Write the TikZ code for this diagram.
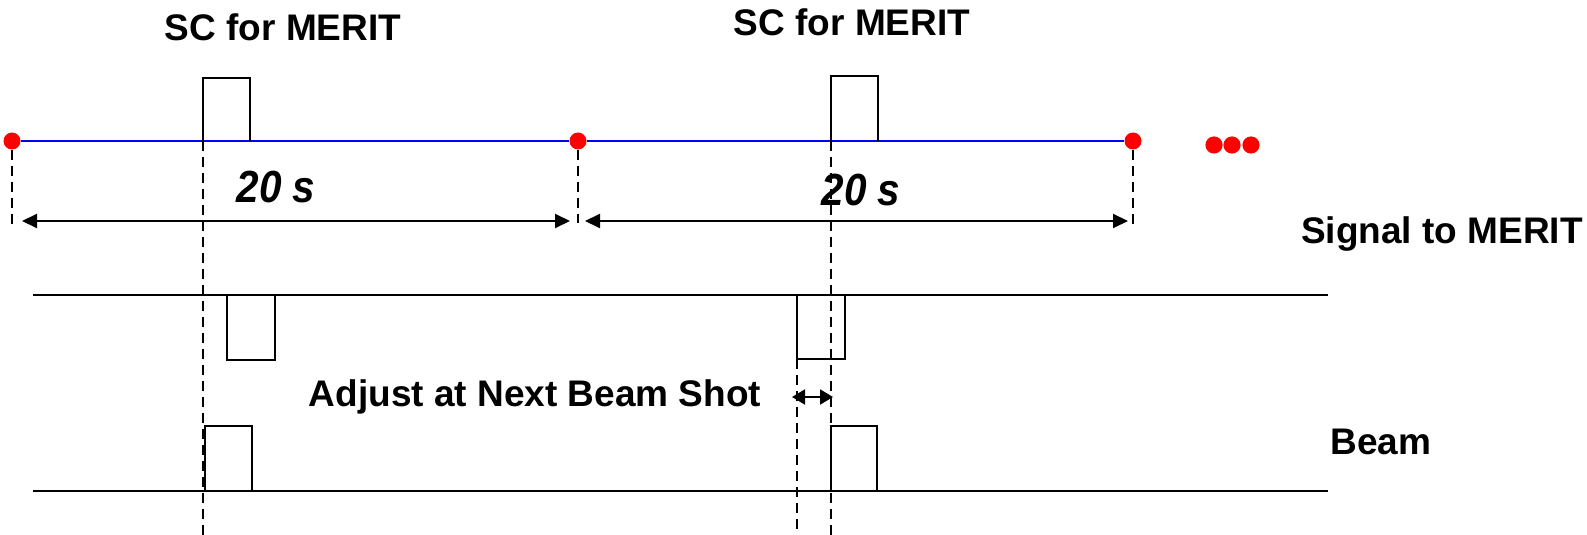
\documentclass[tikz,border=0pt]{standalone}
\usepackage{fontspec}
\setmainfont{Liberation Sans}
\usetikzlibrary{arrows.meta,positioning}
\tikzset{
  tickdot/.style={
    circle,
    fill=red,
    inner sep=0pt,
    minimum size=8.5pt
  },
  moredot/.style={
    circle,
    fill=red,
    inner sep=0pt,
    minimum size=8.6pt
  },
  cyclebar/.style={
    blue,
    line width=1pt
  },
  pulse/.style={
    black,
    line width=0.8pt
  },
  track/.style={
    black,
    line width=1pt
  },
  guide/.style={
    dash pattern=on 5pt off 3pt,
    line width=0.8pt
  },
  span/.style={
    {Triangle[length=7.5pt,width=7pt]}-{Triangle[length=7.5pt,width=7pt]},
    line width=1pt
  },
  spansmall/.style={
    {Triangle[length=6.5pt,width=7.5pt]}-{Triangle[length=6.5pt,width=7.5pt]},
    line width=1pt
  },
  caption/.style={
    inner sep=0pt,
    font=\bfseries\fontsize{18.5}{20}\selectfont
  },
  period/.style={
    inner sep=0pt,
    font=\bfseries\itshape\fontsize{22.5}{24}\selectfont
  }
}

\begin{document}
\begin{tikzpicture}[x=0.5pt,y=-0.5pt]
\useasboundingbox (0,0) rectangle (1587,535);
% cycle markers
\node[tickdot] (t0) at (12,141) {};
\node[tickdot] (t1) at (578,141) {};
\node[tickdot] (t2) at (1133,141) {};
\foreach \i/\x in {1/1214,2/1232,3/1251}
  \node[moredot] (e\i) at (\x,145) {};
\draw[cyclebar] (t0) -- (t1) -- (t2);
% levels
\coordinate (lvl) at (0,221);
\coordinate (btm) at (0,535);
\coordinate (s0) at (33,295);
\coordinate (s1) at (1328,295);
\coordinate (b0) at (33,491);
\coordinate (b1) at (1328,491);
% SC pulses
\coordinate (p1a) at (203,141);
\coordinate (p1b) at (250,141);
\coordinate (p2a) at (831,141);
\coordinate (p2b) at (878,141);
\draw[pulse] (p1a) -- ++(0,-63) -| (p1b);
\draw[pulse] (p2a) -- ++(0,-65) -| (p2b);
% signal pulses
\coordinate (q1a) at (227,295);
\coordinate (q1b) at (275,295);
\coordinate (q2a) at (797,295);
\coordinate (q2b) at (845,295);
\draw[track] (s0) -- (s1);
\draw[pulse] (q1a) -- ++(0,65) -| (q1b);
\draw[pulse] (q2a) -- ++(0,64) -| (q2b);
% beam pulses
\coordinate (r1a) at (205,491);
\coordinate (r1b) at (252,491);
\coordinate (r2a) at (831,491);
\coordinate (r2b) at (877,491);
\draw[track] (b0) -- (b1);
\draw[pulse] (r1a) -- ++(0,-65) -| (r1b);
\draw[pulse] (r2a) -- ++(0,-65) -| (r2b);
% guides
\draw[guide] (t0) -- ++(0,85);
\draw[guide] (t1) -- ++(0,82);
\draw[guide] (t2) -- ++(0,85);
\draw[guide] (p1a) -- (p1a |- btm);
\draw[guide] (p2a) -- (p2a |- btm);
\draw[guide] ([yshift=-64*0.5pt]q2a) -- (q2a |- btm);
% spans
\draw[span,shorten <=5pt,shorten >=4pt] (t0 |- lvl) -- (t1 |- lvl);
\draw[span,shorten <=3.5pt,shorten >=2.5pt] (t1 |- lvl) -- (t2 |- lvl);
% labels
\node[caption] (sc1) at (283,27) {SC for MERIT};
\node[caption] (sc2) at (852,22) {SC for MERIT};
\node[period] (dt1) at (276,187) {\scalebox{0.9}[1]{20 s}};
\node[period] (dt2) at (861,190) {\scalebox{0.9}[1]{20 s}};
\node[caption] (sig) at (1442,234) {Signal to MERIT};
\node[caption] (adj) at (535,397) {Adjust at Next Beam Shot};
\node[caption] (beam) at (1381,442) {Beam};
\draw[spansmall,shorten <=-2.5pt,shorten >=-1pt] (q2a |- adj) -- (p2a |- adj);
\end{tikzpicture}
\end{document}
